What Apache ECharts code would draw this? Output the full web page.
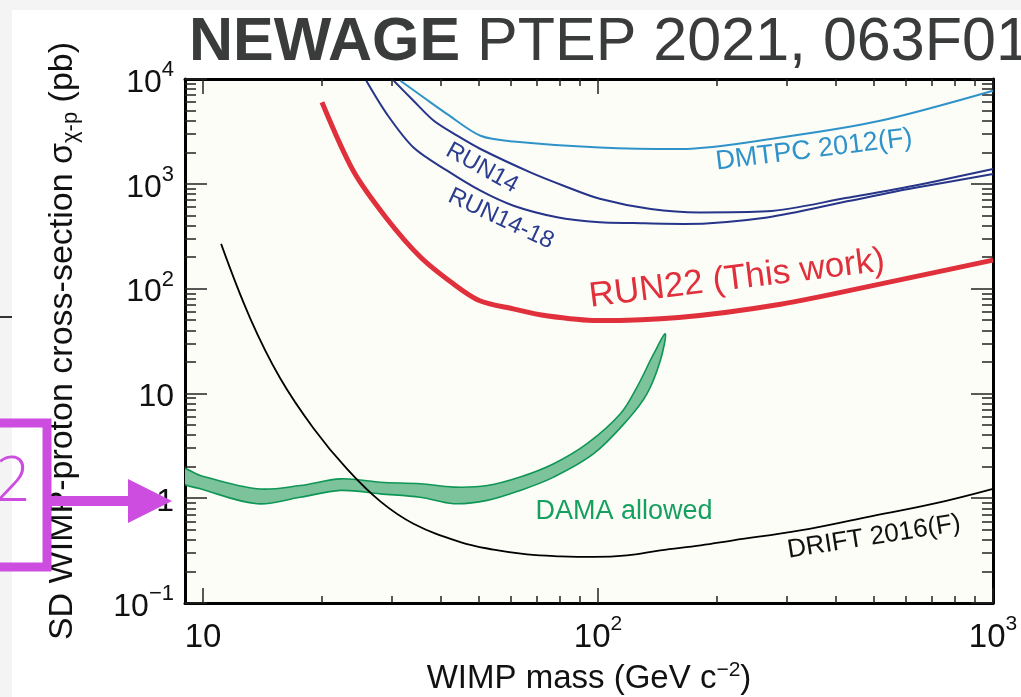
<!DOCTYPE html>
<html>
<head>
<meta charset="utf-8">
<script src="https://cdn.jsdelivr.net/npm/echarts@6.0.0/dist/echarts.min.js"></script>
<style>
  html, body { margin: 0; padding: 0; background: #ffffff; }
  #chart { width: 1021px; height: 697px; }
</style>
</head>
<body>
<div id="chart"></div>
<script>
// axis ticks (GeV / pb)
const xMajor = [10, 100, 1000];
const xMinor = [20, 30, 40, 50, 60, 70, 80, 90, 200, 300, 400, 500, 600, 700, 800, 900];
const yMajor = [0.1, 1, 10, 100, 1000, 10000];
const yMinor = [0.2, 0.3, 0.4, 0.5, 0.6, 0.7, 0.8, 0.9,
                2, 3, 4, 5, 6, 7, 8, 9,
                20, 30, 40, 50, 60, 70, 80, 90,
                200, 300, 400, 500, 600, 700, 800, 900,
                2000, 3000, 4000, 5000, 6000, 7000, 8000, 9000];

// curves: WIMP mass (GeV) -> cross-section (pb)
const run22Mass = [20, 24, 29, 35.5, 43, 50, 61, 74, 100, 160, 290, 520, 1000];
const run22Xsec = [6000, 1330, 480, 200, 111, 77, 64, 55, 49.5, 53, 71, 111, 187];

const run14Mass = [30.4, 34.1, 38.4, 44, 50.4, 67.4, 81.8, 101, 136, 181, 268, 427, 630, 1000];
const run14Xsec = [9610, 6200, 3990, 2876, 2148, 1285, 959, 720, 575, 533, 546, 735, 959, 1384];

const run1418Mass = [25.9, 29.2, 34.1, 41.5, 50.4, 61.1, 78.8, 101, 123, 165, 268, 427, 630, 1000];
const run1418Xsec = [9610, 4627, 2222, 1334, 859, 618, 480, 430, 422, 414, 478, 680, 910, 1240];

const dmtpcMass = [31.6, 36.2, 41.5, 50.4, 61.1, 101, 162, 290, 518, 1000];
const dmtpcXsec = [9610, 6660, 4627, 2876, 2536, 2222, 2148, 2768, 3990, 7720];

const driftMass = [11.11, 13.17, 15.69, 19.05, 23.2, 28.1, 34.1, 44.8, 54.4, 66.1, 80.3, 97.5,
                   118.4, 143.8, 182, 220, 325, 480, 708, 1000];
const driftXsec = [267, 51.8, 13.87, 4.63, 1.88, 0.932, 0.571, 0.381, 0.323, 0.291, 0.279, 0.275,
                   0.285, 0.318, 0.355, 0.396, 0.493, 0.661, 0.887, 1.23];

const damaUpperMass = [8.8, 9.84, 13.7, 17.6, 22.3, 28.1, 35.5, 43.1, 52.4, 63.5, 77.2, 93.8, 113.9, 125.5, 138.3, 148];
const damaUpperXsec = [1.95, 1.65, 1.23, 1.32, 1.53, 1.42, 1.375, 1.276, 1.32, 1.59, 2.13, 3.31, 6.39, 11.5, 23.8, 37];
const damaLowerMass = [8.8, 9.84, 13.7, 17.6, 22.3, 28.1, 35.5, 43.1, 52.4, 63.5, 77.2, 97.5, 118.4, 133, 143.8];
const damaLowerXsec = [1.42, 1.23, 0.886, 1.02, 1.187, 1.10, 1.02, 0.886, 0.953, 1.187, 1.59, 2.66, 5.52, 9.9, 20.6];

const FONT = '"Liberation Sans", Arial, Helvetica, sans-serif';
const X_MIN = 9, X_MAX = 1000, Y_MIN = 0.1, Y_MAX = 10000;

function pairs(xs, ys) {
    return xs.map((x, i) => [x, ys[i]]);
}

function powLabel(v) {
    const e = Math.round(Math.log10(v));
    if (e === 0) return '{n|1}';
    if (e === 1) return '{n|10}';
    return '{n|10}{s|' + (e < 0 ? '\u2212' + (-e) : e) + '}';
}

const frame = {show: true, onZero: false, lineStyle: {color: '#000', width: 3}};
const tickStyle = {color: '#222', width: 1.5};

function tickRich(size, supSize) {
    return {
        n: {fontSize: size, lineHeight: 40, verticalAlign: 'bottom', color: '#111', fontFamily: FONT},
        s: {fontSize: supSize, lineHeight: 20, padding: [0, 0, 20, 0], verticalAlign: 'top', color: '#111', fontFamily: FONT}
    };
}

function xAxisDef(position, major, withLabels) {
    const ax = {
        type: 'log', min: X_MIN, max: X_MAX, position: position, gridIndex: 0,
        axisLine: major ? frame : {show: false},
        axisTick: {show: true, inside: true, length: major ? 15 : 7,
                   customValues: major ? xMajor : xMinor, lineStyle: tickStyle},
        axisLabel: {show: false},
        splitLine: {show: false},
        minorTick: {show: false}
    };
    if (withLabels) {
        ax.axisLabel = {
            show: true, customValues: xMajor, margin: 11, formatter: powLabel,
            fontSize: 33, color: '#111', fontFamily: FONT,
            rich: tickRich(33, 21)
        };
        ax.name = 'WIMP mass (GeV c{s|\u22122})';
        ax.nameLocation = 'middle';
        ax.nameGap = 41;
        ax.nameTextStyle = {
            fontSize: 33, lineHeight: 38, color: '#111', fontFamily: FONT,
            rich: {s: {fontSize: 21, lineHeight: 24, verticalAlign: 'top', color: '#111', fontFamily: FONT}}
        };
    }
    return ax;
}

function yAxisDef(position, major, withLabels) {
    const ax = {
        type: 'log', min: Y_MIN, max: Y_MAX, position: position, gridIndex: 0,
        axisLine: major ? frame : {show: false},
        axisTick: {show: true, inside: true, length: major ? 22 : 11,
                   customValues: major ? yMajor : yMinor, lineStyle: tickStyle},
        axisLabel: {show: false},
        splitLine: {show: false},
        minorTick: {show: false}
    };
    if (withLabels) {
        ax.axisLabel = {
            show: true, customValues: yMajor, margin: 11, formatter: powLabel,
            fontSize: 32, color: '#111', fontFamily: FONT,
            rich: tickRich(32, 22)
        };
        ax.name = 'SD WIMP-proton cross-section \u03c3{b|\u03c7-p} (pb)';
        ax.nameLocation = 'middle';
        ax.nameRotate = 90;
        ax.nameGap = 103;
        ax.nameTextStyle = {
            fontSize: 34, lineHeight: 38, color: '#111', fontFamily: FONT,
            rich: {b: {fontSize: 22, lineHeight: 38, verticalAlign: 'bottom', color: '#111', fontFamily: FONT}}
        };
    }
    return ax;
}

const chart = echarts.init(document.getElementById('chart'), null, {renderer: 'canvas'});

const option = {
    animation: false,
    backgroundColor: '#ffffff',
    title: {
        left: 189, top: 13, padding: 0,
        text: '{b|NEWAGE} {r|PTEP 2021, 063F01}',
        textStyle: {
            fontSize: 61, lineHeight: 61, color: '#3a3c3b', fontFamily: FONT,
            rich: {
                b: {fontSize: 61, lineHeight: 61, fontWeight: 'bold', color: '#3a3c3b', fontFamily: FONT},
                r: {fontSize: 61, lineHeight: 61, fontWeight: 'normal', color: '#3a3c3b', fontFamily: FONT}
            }
        }
    },
    grid: {
        left: 185, right: 28, top: 79, bottom: 94,
        show: true, backgroundColor: '#fdfdf8', borderWidth: 0,
        outerBoundsMode: 'none'
    },
    xAxis: [
        xAxisDef('bottom', true, true),
        xAxisDef('bottom', false, false),
        xAxisDef('top', true, false),
        xAxisDef('top', false, false)
    ],
    yAxis: [
        yAxisDef('left', true, true),
        yAxisDef('left', false, false),
        yAxisDef('right', true, false),
        yAxisDef('right', false, false)
    ],
    series: [
        {
            name: 'DAMA allowed',
            type: 'custom',
            xAxisIndex: 0, yAxisIndex: 0,
            data: [[damaUpperMass[1], damaUpperXsec[1]]],
            renderItem: function (params, api) {
                const upper = pairs(damaUpperMass, damaUpperXsec);
                const lower = pairs(damaLowerMass, damaLowerXsec).reverse();
                const pts = upper.concat(lower).map(p => api.coord(p));
                const cs = params.coordSys;
                return {
                    type: 'polygon',
                    shape: {points: pts, smooth: 0.35},
                    style: {fill: '#7cc29a', stroke: '#0f9656', lineWidth: 1.6},
                    clipPath: {type: 'rect', shape: {x: cs.x, y: cs.y, width: cs.width, height: cs.height}}
                };
            }
        },
        {
            name: 'DRIFT 2016(F)', type: 'line', xAxisIndex: 0, yAxisIndex: 0,
            data: pairs(driftMass, driftXsec), symbol: 'none', smooth: 0.4,
            lineStyle: {color: '#000000', width: 1.8}
        },
        {
            name: 'DMTPC 2012(F)', type: 'line', xAxisIndex: 0, yAxisIndex: 0,
            data: pairs(dmtpcMass, dmtpcXsec), symbol: 'none', smooth: 0.3,
            lineStyle: {color: '#2f93c9', width: 2}
        },
        {
            name: 'RUN14-18', type: 'line', xAxisIndex: 0, yAxisIndex: 0,
            data: pairs(run1418Mass, run1418Xsec), symbol: 'none', smooth: 0.3,
            lineStyle: {color: '#26358a', width: 2}
        },
        {
            name: 'RUN14', type: 'line', xAxisIndex: 0, yAxisIndex: 0,
            data: pairs(run14Mass, run14Xsec), symbol: 'none', smooth: 0.3,
            lineStyle: {color: '#26358a', width: 2}
        },
        {
            name: 'RUN22 (This work)', type: 'line', xAxisIndex: 0, yAxisIndex: 0,
            data: pairs(run22Mass, run22Xsec), symbol: 'none', smooth: 0.3,
            lineStyle: {color: '#e0303c', width: 5}
        }
    ],
    graphic: [
        // slide edges
        {type: 'rect', z: 90, shape: {x: 0, y: 0, width: 12, height: 697}, style: {fill: '#f4f4f4'}},
        {type: 'rect', z: 90, shape: {x: 0, y: 0, width: 1021, height: 10}, style: {fill: '#f4f4f4'}},
        {type: 'line', z: 91, shape: {x1: 0, y1: 317, x2: 12, y2: 317}, style: {stroke: '#333', lineWidth: 2}},
        // curve labels
        {type: 'text', x: 814, y: 150, rotation: 7 * Math.PI / 180,
         style: {text: 'DMTPC 2012(F)', fill: '#2f93c9', fontSize: 27, fontFamily: FONT, align: 'center', verticalAlign: 'middle'}},
        {type: 'text', x: 482, y: 168, rotation: -29 * Math.PI / 180,
         style: {text: 'RUN14', fill: '#2c3d8f', fontSize: 24, fontFamily: FONT, align: 'center', verticalAlign: 'middle'}},
        {type: 'text', x: 501, y: 219, rotation: -25 * Math.PI / 180,
         style: {text: 'RUN14-18', fill: '#2c3d8f', fontSize: 24, fontFamily: FONT, align: 'center', verticalAlign: 'middle'}},
        {type: 'text', x: 737, y: 279, rotation: 7 * Math.PI / 180,
         style: {text: 'RUN22 (This work)', fill: '#e0303c', fontSize: 35, fontFamily: FONT, align: 'center', verticalAlign: 'middle'}},
        {type: 'text', x: 624, y: 512,
         style: {text: 'DAMA allowed', fill: '#16a060', fontSize: 27, fontFamily: FONT, align: 'center', verticalAlign: 'middle'}},
        {type: 'text', x: 874, y: 537, rotation: 9 * Math.PI / 180,
         style: {text: 'DRIFT 2016(F)', fill: '#111', fontSize: 26, fontFamily: FONT, align: 'center', verticalAlign: 'middle'}},
        // magenta annotation
        {type: 'polyline', z: 100, shape: {points: [[0, 423], [47, 423], [47, 567], [0, 567]]},
         style: {stroke: '#cc4ddf', lineWidth: 9, fill: null, lineJoin: 'miter'}},
        {type: 'line', z: 100, shape: {x1: 47, y1: 501, x2: 130, y2: 501}, style: {stroke: '#cc4ddf', lineWidth: 10}},
        {type: 'polygon', z: 100, shape: {points: [[128, 479], [172, 501], [128, 523]]}, style: {fill: '#cc4ddf'}},
        {type: 'text', z: 100, x: -5, y: 514,
         style: {text: '2', fill: '#cc4ddf', fontSize: 62, fontWeight: 300, fontFamily: '"Open Sans", ' + FONT, align: 'left', verticalAlign: 'bottom'}}
    ]
};

option && chart.setOption(option);
</script>
</body>
</html>
